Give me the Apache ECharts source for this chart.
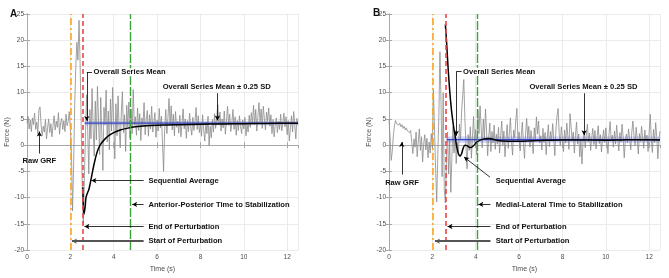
<!DOCTYPE html>
<html>
<head>
<meta charset="utf-8">
<script src="https://cdn.jsdelivr.net/npm/echarts@6/dist/echarts.min.js"></script>
<style>
html, body { margin: 0; padding: 0; background: #fff; }
#container { width: 669px; height: 278px; }
</style>
</head>
<body>
<div id="container"></div>
<script>
// sampling step of the raw force traces (s)
var dt = 0.05;

// panel A - anterior-posterior raw GRF (N), one value per 0.05 s from 0 to 12.5 s
var rawA = [
  4.2, 5.5, 3.1, 4.8, 2.6, 5.2, 3.9, 6.1, 3.0, 4.4, 2.2, 6.8, 7.3, 4.0, 1.8, 3.6, 2.5, 4.9, 1.2, 3.3,
  5.0, 2.4, 4.1, 1.6, 3.8, 5.6, 2.9, 4.6, 3.4, 6.2, 2.1, 4.3, 5.1, 3.0, 4.7, 2.6, 5.9, 3.7, 4.5, 6.4,
  3.2, -1.5, -12.5, -3.8, 7.5, 14.8, 19.6, 16.2, 23.8, 15.5, 4.2, -8.5, -15.2, -5.8, 2.4, 9.6, 2.8, -5.5, 6.8, 1.2,
  10.8, 3.5, -2.1, 8.4, 1.0, 11.2, 4.6, -1.8, 9.1, 2.3, -4.8, 7.2, 3.9, 10.5, 0.6, 6.5, -0.9, 8.8, 2.7, 11.0,
  4.1, -2.6, 7.9, 1.8, 9.4, 3.2, -0.5, 6.1, 10.2, 2.4, 5.8, -1.2, 7.6, 3.5, 8.2, 1.4, 6.9, 2.2, 10.6, 3.8,
  5.4, 1.9, 7.1, 2.8, 6.0, 0.9, 5.2, 3.6, 8.1, 2.0, 4.9, 6.6, 1.7, 5.8, 3.1, 7.4, 2.5, 4.4, 6.2, 1.5,
  4.8, 2.7, 7.0, 3.3, 5.5, 0.4, -5.0, 3.0, 6.8, 2.2, 5.1, 8.9, 3.7, 7.5, 2.9, 5.9, 1.8, 6.4, 3.4, 4.6,
  2.3, 5.7, 1.6, 4.2, 6.9, 3.1, 5.0, 1.3, 4.7, 2.6, 6.1, 3.5, 1.9, 5.3, 2.8, 4.5, 7.2, 3.0, 5.6, 2.4,
  4.1, 1.7, 5.8, 2.9, 0.8, 4.4, 2.2, 5.5, -0.1, 3.6, 1.4, 4.9, 2.5, 6.0, 3.2, 5.1, 7.7, 3.9, 6.3, 2.7,
  5.0, 3.3, 6.5, 2.1, 4.6, 7.4, 3.8, 5.9, 2.6, 4.3, 6.8, 3.0, 5.4, 1.9, 4.7, 2.8, 5.6, 3.5, 2.2, 4.8,
  3.1, 5.3, 1.8, 4.0, 2.5, 5.7, 3.4, 6.2, 4.1, 7.6, 3.9, 6.8, 2.7, 5.5, 8.1, 4.4, 6.9, 3.2, 7.4, 5.0,
  2.9, 6.3, 4.5, 7.1, 3.6, 5.8, 2.2, 4.9, 1.6, 3.8, 5.2, 2.4, 4.6, 3.0, 5.9, 2.7, 4.3, 6.1, 3.5, 5.4,
  2.0, 4.7, 0.8, 3.3, 5.6, 2.5, 6.4, 4.0, 1.2, 5.1, 3.9
];

// panel B - medial-lateral raw GRF (N)
var rawB = [
  5.0, 1.5, -2.9, -1.2, 1.8, 3.6, 4.7, 4.1, 4.4, 3.8, 4.2, 3.5, 3.9, 3.2, 3.6, 2.9, 3.3, 2.7, 3.0, 2.4,
  2.8, 0.5, -1.6, 1.2, -0.4, 2.5, -2.2, 0.8, 3.1, -1.0, 1.6, -3.2, 0.2, 2.0, -0.9, 1.3, -2.4, 0.6, -1.5, 2.2,
  -0.5, 10.5, 3.0, -4.5, -10.8, -2.0, 5.5, 17.8, 8.0, -6.0, 10.0, -8.5, -11.0, -3.0, 2.5, -5.5, 1.0, -9.0, -2.5, 3.5,
  -1.5, 2.8, -3.5, 0.5, -2.0, 4.0, 1.0, 6.5, 9.5, 12.5, 5.0, 0.0, -4.5, 2.0, -1.0, 3.5, -2.5, 1.5, 5.5, 0.5,
  3.0, -1.8, 6.8, 2.2, 7.5, 3.5, -0.5, 5.0, 1.2, 6.9, 2.8, -2.0, 1.5, 4.2, -1.2, 2.6, 0.4, 3.8, -0.8, 2.1,
  0.2, 3.4, -1.5, 1.8, 4.6, 0.0, 2.7, -2.2, 1.1, 3.9, -0.6, 2.3, 5.2, 0.8, -1.9, 2.9, 1.4, 4.8, 7.0, 0.6,
  2.5, -1.1, 1.7, 4.4, 0.3, -2.5, 2.0, 5.1, 1.2, 3.6, -0.4, 2.8, 0.9, -1.6, 3.3, 1.0, 5.4, 2.1, 4.6, 0.4,
  1.8, -0.9, 3.2, 0.5, 2.4, -1.8, 1.5, 3.9, -0.3, 2.6, 0.8, 4.1, 1.1, -2.0, 3.0, 5.6, 7.0, 2.2, 0.0, 3.5,
  1.3, -1.2, 2.9, 0.4, 4.2, 1.7, -0.8, 6.0, 3.4, 0.9, 2.5, -1.5, 1.8, 4.4, 0.2, 2.1, -2.2, 1.0, -3.6, 0.7,
  2.6, -0.5, 1.9, 4.0, 0.6, 2.3, -1.0, 1.4, 3.2, 0.1, 2.8, -0.7, 1.6, 3.7, 0.3, 2.0, -1.3, 1.1, 2.9, 0.5,
  3.3, 1.0, -1.6, 2.2, 4.5, 0.8, 1.9, -0.4, 2.7, 0.2, 3.8, 1.3, -1.1, 2.4, 0.6, 4.0, 1.5, -2.4, 0.9, 2.1,
  0.4, 3.1, 1.2, -0.9, 2.5, 4.6, 1.8, 0.0, 3.4, 1.1, -1.7, 2.2, 0.7, 3.6, 1.4, -0.6, 2.9, 0.8, 1.9, -1.2,
  2.4, 5.9, 1.0, -1.4, 3.0, 0.5, 4.3, 1.6, -2.6, 0.9, 2.7
];

// sequential averages
var seqTimeA = [2.58, 2.62, 2.68, 2.72, 2.78, 2.85, 2.9, 3.0, 3.1, 3.2, 3.3, 3.4, 3.6, 3.8, 4.0, 4.3, 4.6, 5.0, 5.5, 6.0, 6.5, 7.0, 8.0, 9.0, 10.0, 11.0, 12.5];
var seqValA  = [-8.0, -13.2, -11.8, -10.0, -9.2, -8.5, -7.6, -5.5, -3.5, -1.8, -0.6, 0.2, 1.2, 1.9, 2.4, 2.9, 3.2, 3.5, 3.7, 3.8, 3.85, 3.9, 4.0, 4.05, 4.1, 4.15, 4.2];
var seqTimeB = [2.6, 2.65, 2.7, 2.75, 2.8, 2.85, 2.9, 2.95, 3.0, 3.05, 3.1, 3.15, 3.2, 3.28, 3.35, 3.42, 3.5, 3.6, 3.7, 3.78, 3.9, 4.05, 4.3, 4.6, 5.1, 6.0, 7.0, 8.0, 9.0, 10.0, 11.0, 12.5];
var seqValB  = [23.0, 20.0, 16.5, 13.2, 10.4, 8.0, 6.0, 4.4, 3.0, 1.8, 0.3, -0.8, -1.6, -2.1, -1.6, -0.6, 0.0, -0.1, -0.4, -0.45, -0.1, 0.6, 1.1, 1.25, 0.85, 0.75, 0.9, 1.0, 1.0, 0.95, 1.05, 1.0];

// overall series mean and +-0.25 SD band: [start time, end time, mean, low, high]
var meanA = [2.66, 12.5, 4.2, 3.8, 4.6];
var meanB = [2.66, 12.5, 1.05, 0.45, 1.65];

// event times (s): start of perturbation, end of perturbation, time to stabilization
var eventsA = [2.0, 2.58, 4.77];
var eventsB = [2.0, 2.6, 4.05];

function pairs(vals) {
  var out = [];
  for (var i = 0; i < vals.length; ++i) out.push([+(i * dt).toFixed(2), vals[i]]);
  return out;
}
function zip(ts, vs) {
  var out = [];
  for (var i = 0; i < ts.length; ++i) out.push([ts[i], vs[i]]);
  return out;
}

var noteFont = 'Liberation Sans, Arial, sans-serif';
var labelFont = { fontFamily: noteFont, fontSize: 6.5, color: '#4d4d4d' };
var noteSize = 7.6;

function axesFor(gi) {
  var xs = [{
    type: 'value', gridIndex: gi, min: 0, max: 12.5, interval: 2, position: 'bottom',
    name: 'Time (s)', nameLocation: 'middle', nameGap: 13,
    nameTextStyle: { fontFamily: noteFont, fontSize: 7, color: '#4d4d4d' },
    axisLine: { lineStyle: { color: '#a6a6a6', width: 0.8 } },
    axisTick: { inside: true, length: 3, lineStyle: { color: '#a6a6a6' } },
    axisLabel: Object.assign({ margin: 4, showMaxLabel: false }, labelFont),
    splitLine: { show: true, lineStyle: { color: '#e6e6e6', width: 0.8 } }
  }, {
    type: 'value', gridIndex: gi, min: 0, max: 12.5, interval: 2, position: 'top',
    axisLine: { lineStyle: { color: '#a6a6a6', width: 0.8 } },
    axisTick: { inside: true, length: 3, lineStyle: { color: '#a6a6a6' } },
    axisLabel: { show: false }, splitLine: { show: false }
  }];
  var ys = [{
    type: 'value', gridIndex: gi, min: -20, max: 25, interval: 5, position: 'left',
    name: 'Force (N)', nameLocation: 'middle', nameGap: 16, nameRotate: 90,
    nameTextStyle: { fontFamily: noteFont, fontSize: 7, color: '#4d4d4d' },
    axisLine: { show: true, lineStyle: { color: '#a6a6a6', width: 0.8 } },
    axisTick: { show: true, inside: true, length: 3, lineStyle: { color: '#a6a6a6' } },
    axisLabel: Object.assign({ margin: 3 }, labelFont),
    splitLine: { show: true, lineStyle: { color: '#e6e6e6', width: 0.8 } }
  }, {
    type: 'value', gridIndex: gi, min: -20, max: 25, interval: 5, position: 'right',
    axisLine: { show: true, lineStyle: { color: '#a6a6a6', width: 0.8 } },
    axisTick: { show: true, inside: true, length: 3, lineStyle: { color: '#a6a6a6' } },
    axisLabel: { show: false }, splitLine: { show: false }
  }];
  return { x: xs, y: ys };
}

function arrow(x1, y1, x2, y2, style) {
  return [
    { coord: [x1, y1], symbol: 'none', lineStyle: style },
    { coord: [x2, y2], symbol: 'arrow', symbolSize: [4, 5] }
  ];
}
function seg(x1, y1, x2, y2) {
  return [{ coord: [x1, y1], symbol: 'none' }, { coord: [x2, y2], symbol: 'none' }];
}
function note(x, y, text, align, bg) {
  return {
    coord: [x, y], name: text, symbol: 'rect', symbolSize: 0,
    label: {
      show: true, position: [0, 0], align: align || 'left', verticalAlign: 'middle',
      formatter: '{b}', fontFamily: noteFont, fontWeight: 'bold', fontSize: noteSize, color: '#111',
      backgroundColor: bg ? '#fff' : 'transparent', padding: bg ? [0, 1] : 0
    }
  };
}

function panelSeries(idx, raw, seqT, seqV, mean, ev, notes) {
  var xi = idx * 2, yi = idx * 2;
  return [
    {
      type: 'line', xAxisIndex: xi, yAxisIndex: yi, data: pairs(raw), showSymbol: false,
      lineStyle: { color: '#8a8a8a', width: 0.8 }, silent: true, z: 2
    },
    {
      type: 'line', xAxisIndex: xi, yAxisIndex: yi, showSymbol: false,
      data: [[mean[0], mean[2]], [mean[1], mean[2]]],
      lineStyle: { color: '#3344c4', width: 1.2 }, silent: true, z: 3,
      markArea: {
        silent: true,
        itemStyle: { color: 'rgba(120,130,245,0.35)' },
        data: [[{ coord: [mean[0], mean[3]] }, { coord: [mean[1], mean[4]] }]]
      }
    },
    {
      type: 'line', xAxisIndex: xi, yAxisIndex: yi, showSymbol: false, smooth: 0.3,
      data: zip(seqT, seqV), lineStyle: { color: '#000', width: 1.5 }, silent: true, z: 4
    },
    {
      type: 'line', xAxisIndex: xi, yAxisIndex: yi, data: [], silent: true, z: 5,
      markLine: {
        silent: true, symbol: 'none', label: { show: false },
        data: [
          { xAxis: ev[0], lineStyle: { color: '#ffa31a', width: 1.6, type: [7, 3, 2, 3] } },
          { xAxis: ev[1], lineStyle: { color: '#e8474a', width: 1.6, type: [5, 3] } },
          { xAxis: ev[2], lineStyle: { color: '#3aa33a', width: 1.4, type: [9, 2] } }
        ]
      }
    },
    {
      type: 'line', xAxisIndex: xi, yAxisIndex: yi, data: [], silent: true, z: 6,
      markLine: {
        silent: true, label: { show: false }, animation: false,
        lineStyle: { color: '#000', width: 0.8, type: 'solid' },
        data: notes.lines
      },
      markPoint: { silent: true, animation: false, data: notes.texts }
    }
  ];
}

var startStyle = { color: '#555', width: 1.8, type: 'solid' };

var notesA = {
  lines: [
    seg(2.76, 13.9, 3.0, 13.9),
    arrow(2.76, 13.9, 2.76, 4.6),
    arrow(8.78, 9.9, 8.78, 4.7),
    arrow(0.57, -1.6, 0.57, 2.6),
    arrow(5.38, -6.75, 2.97, -6.75),
    arrow(5.38, -11.3, 4.85, -11.3),
    arrow(5.38, -15.5, 2.65, -15.5),
    arrow(5.38, -18.3, 2.07, -18.3, startStyle)
  ],
  texts: [
    note(3.02, 13.9, 'Overall Series Mean', 'left', true),
    note(8.75, 11.1, 'Overall Series Mean \u00b1 0.25 SD', 'center', true),
    note(0.57, -3.0, 'Raw GRF', 'center'),
    note(5.6, -6.75, 'Sequential Average'),
    note(5.6, -11.3, 'Anterior-Posterior Time to Stabilization'),
    note(5.6, -15.5, 'End of Perturbation'),
    note(5.6, -18.3, 'Start of Perturbation')
  ]
};

var notesB = {
  lines: [
    seg(3.1, 14.0, 3.35, 14.0),
    arrow(3.1, 14.0, 3.1, 1.8),
    arrow(9.0, 9.9, 9.0, 1.9),
    arrow(0.59, -5.6, 0.59, 0.6),
    arrow(4.66, -6.1, 3.46, -2.25),
    arrow(4.68, -11.3, 4.12, -11.3),
    arrow(4.68, -15.5, 2.7, -15.5),
    arrow(4.68, -18.3, 2.12, -18.3, startStyle)
  ],
  texts: [
    note(3.37, 14.0, 'Overall Series Mean', 'left', true),
    note(8.97, 11.1, 'Overall Series Mean \u00b1 0.25 SD', 'center', true),
    note(0.6, -7.1, 'Raw GRF', 'center'),
    note(4.92, -6.75, 'Sequential Average'),
    note(4.92, -11.3, 'Medial-Lateral Time to Stabilization'),
    note(4.92, -15.5, 'End of Perturbation'),
    note(4.92, -18.3, 'Start of Perturbation')
  ]
};

var axA = axesFor(0), axB = axesFor(1);

var myChart = echarts.init(document.getElementById('container'));
var option = {
  animation: false,
  backgroundColor: '#fff',
  title: [
    { text: 'A', left: 5, top: 4, textStyle: { fontFamily: noteFont, fontSize: 10, fontWeight: 'bold', color: '#111' } },
    { text: 'B', left: 368, top: 3, textStyle: { fontFamily: noteFont, fontSize: 10, fontWeight: 'bold', color: '#111' } }
  ],
  grid: [
    { left: 27, right: 371, top: 14, bottom: 24, show: false },
    { left: 389, right: 9, top: 14, bottom: 24, show: false }
  ],
  xAxis: axA.x.concat(axB.x),
  yAxis: axA.y.concat(axB.y),
  series: panelSeries(0, rawA, seqTimeA, seqValA, meanA, eventsA, notesA)
    .concat(panelSeries(1, rawB, seqTimeB, seqValB, meanB, eventsB, notesB))
};
myChart.setOption(option);
</script>
</body>
</html>
